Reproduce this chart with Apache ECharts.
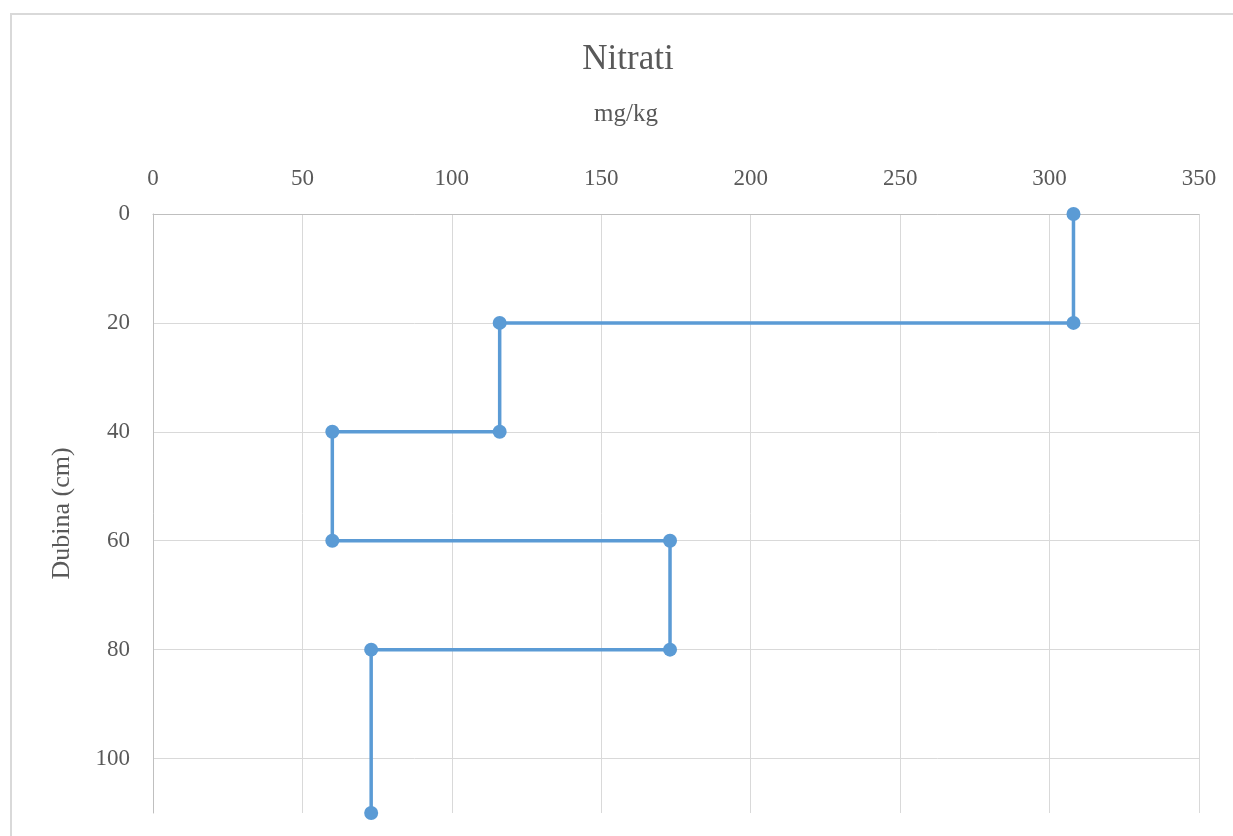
<!DOCTYPE html>
<html>
<head>
<meta charset="utf-8">
<script src="https://cdn.jsdelivr.net/npm/echarts@6/dist/echarts.min.js"></script>
<style>
html,body{margin:0;padding:0;background:#fff;}
#c{width:1233px;height:836px;}
</style>
</head>
<body>
<div id="c"></div>
<script>
const depths = [0, 20, 20, 40, 40, 60, 60, 80, 80, 110];
const nitrati = [308, 308, 116, 116, 60, 60, 173, 173, 73, 73];
const xTicks = [0, 350, 50];
const yTicks = [0, 110, 20];

const FONT = '"Liberation Serif", "Times New Roman", serif';
const chart = echarts.init(document.getElementById('c'));
chart.setOption({
  backgroundColor: '#fff',
  animation: false,
  graphic: [{
    type: 'rect', z: -1,
    shape: {x: 11, y: 14, width: 1230, height: 900},
    style: {fill: 'none', stroke: '#d9d9d9', lineWidth: 2}
  }],
  title: [{
    text: 'Nitrati', left: 623, textAlign: 'center', top: 37,
    textStyle: {fontFamily: FONT, fontSize: 35, fontWeight: 'normal', color: '#595959'}
  }, {
    text: 'mg/kg', left: 621, textAlign: 'center', top: 97,
    textStyle: {fontFamily: FONT, fontSize: 25, fontWeight: 'normal', color: '#595959'}
  }],
  grid: {left: 153, top: 214, right: 34, bottom: 23},
  xAxis: {
    type: 'value', position: 'top',
    min: xTicks[0], max: xTicks[1], interval: xTicks[2],
    axisLine: {show: true, lineStyle: {color: '#bfbfbf', width: 1}},
    axisTick: {show: false},
    axisLabel: {fontFamily: FONT, fontSize: 23, color: '#595959', margin: 24},
    splitLine: {show: true, lineStyle: {color: '#d9d9d9', width: 1}}
  },
  yAxis: {
    type: 'value', inverse: true,
    min: yTicks[0], max: yTicks[1], interval: yTicks[2],
    name: 'Dubina (cm)', nameLocation: 'middle', nameGap: 78, nameRotate: 90,
    nameTextStyle: {fontFamily: FONT, fontSize: 26, color: '#595959'},
    axisLine: {show: true, lineStyle: {color: '#bfbfbf', width: 1}},
    axisTick: {show: false},
    axisLabel: {fontFamily: FONT, fontSize: 23, color: '#595959', margin: 23, showMaxLabel: false},
    splitLine: {show: true, showMaxLine: false, lineStyle: {color: '#d9d9d9', width: 1}}
  },
  series: [{
    type: 'line',
    data: nitrati.map((v, i) => [v, depths[i]]),
    symbol: 'circle', symbolSize: 14,
    lineStyle: {color: '#5b9bd5', width: 3.5},
    itemStyle: {color: '#5b9bd5'},
    clip: false
  }]
});
</script>
</body>
</html>
